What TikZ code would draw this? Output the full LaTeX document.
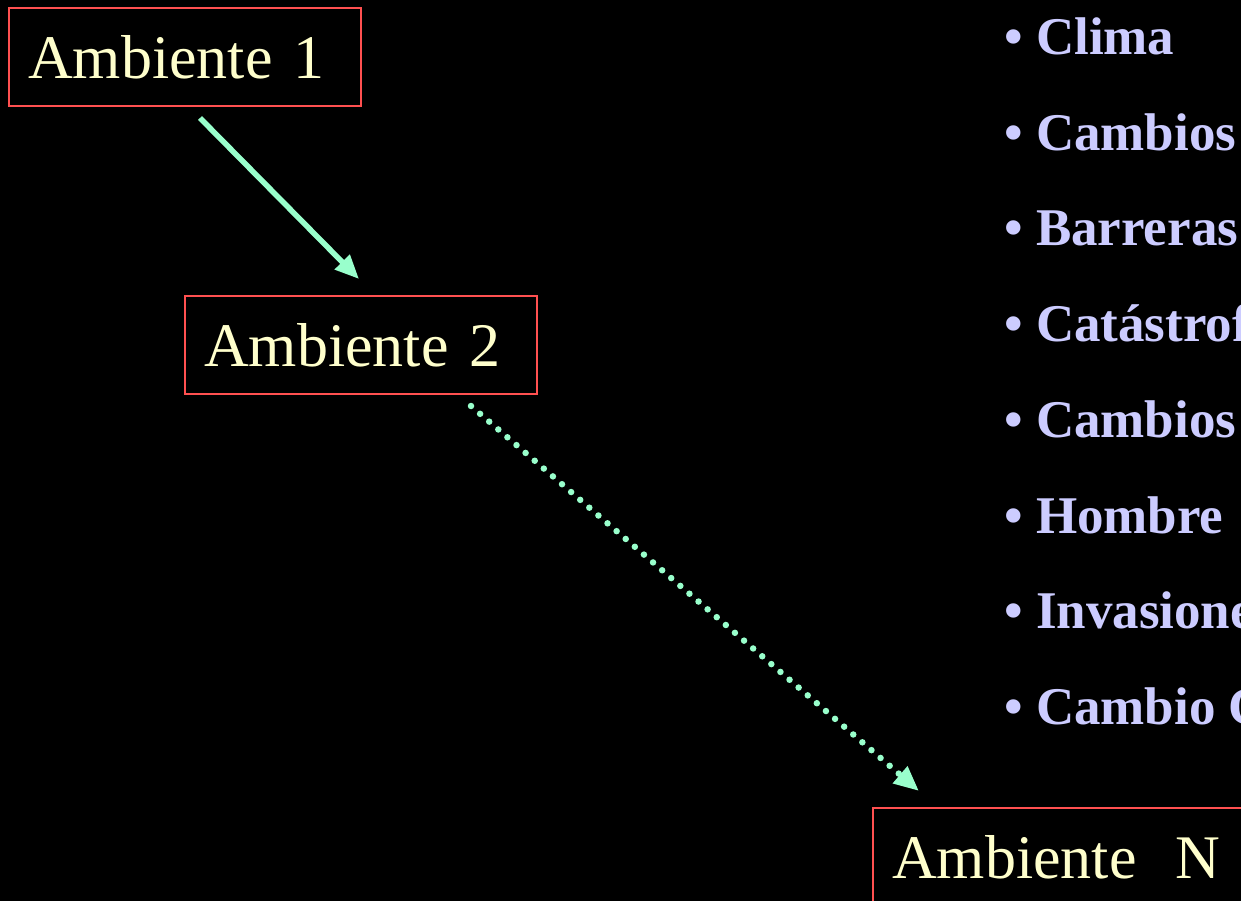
\documentclass[tikz,border=0pt]{standalone}
\usepackage{fontspec}
\setmainfont{Liberation Serif}
\usetikzlibrary{arrows.meta}
\definecolor{boxred}{RGB}{255,80,80}
\definecolor{txtyellow}{RGB}{255,255,204}
\definecolor{aqua}{RGB}{153,255,204}
\definecolor{lav}{RGB}{204,204,255}
\tikzset{
  envbox/.style={draw=boxred, line width=2pt, text=txtyellow, font=\fontsize{62}{70}\selectfont,
    anchor=north west, minimum height=98pt, text width=314pt, inner xsep=19pt, inner ysep=0pt, align=left},
  solidarrow/.style={draw=aqua, line width=5.5pt, -{Triangle[length=24pt,width=20pt]}},
  dotarrow/.style={draw=aqua, line width=6.5pt, line cap=round, dash pattern=on 0pt off 12pt,
    -{Triangle[length=25pt,width=21pt,line cap=butt]}},
  item/.style={text=lav, font=\bfseries\fontsize{53}{60}\selectfont, anchor=base west, inner sep=0pt}
}
\begin{document}
\begin{tikzpicture}[x=1pt,y=-1pt]
\fill[black] (0,0) rectangle (1241,901);
\useasboundingbox (0,0) rectangle (1241,901);
\clip (0,0) rectangle (1241,901);

\node[envbox] (b1) at (8,7) {Ambiente 1};
\node[envbox] (b2) at (184,295) {Ambiente 2};
\node[envbox, text width=360pt] (bn) at (872,807) {Ambiente\hspace{0.63em}N};

\coordinate (s1) at (200,118);
\coordinate (e1) at (359,279);
\coordinate (s2) at (471,406);
\coordinate (e2) at (919,791);
\draw[solidarrow] (s1) -- (e1);
\draw[dotarrow] (s2) -- (e2);

\node[item] (i1) at (1004,54.5) {• Clima};
\node[item] (i2) at (1004,150.2) {• Cambios};
\node[item] (i3) at (1004,245.9) {• Barreras};
\node[item] (i4) at (1004,341.6) {• Catástrofes};
\node[item] (i5) at (1004,437.3) {• Cambios};
\node[item] (i6) at (1004,533) {• Hombre};
\node[item] (i7) at (1004,628.7) {• Invasiones};
\node[item] (i8) at (1004,724.4) {• Cambio Climático};
\end{tikzpicture}
\end{document}
